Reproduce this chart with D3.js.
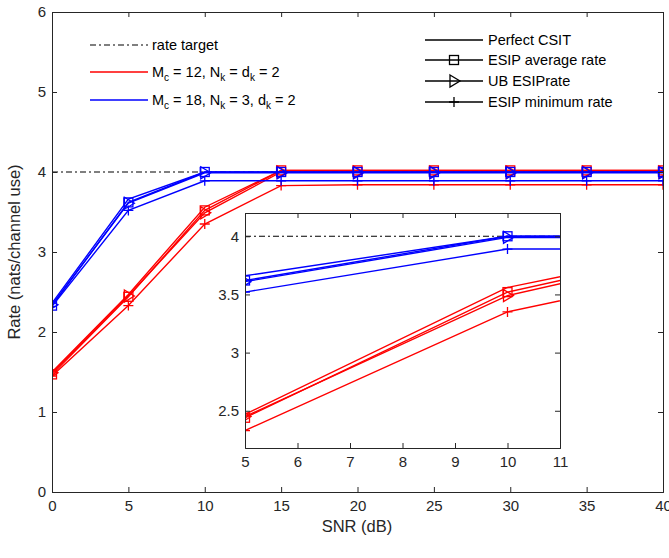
<html>
<head>
<script src="https://d3js.org/d3.v7.min.js"></script>
<style>
body { margin: 0; background: #fff; font-family: "Liberation Sans", Arial, sans-serif; }
text { font-family: "Liberation Sans", Arial, sans-serif; }
</style>
</head>
<body>
<svg id="chart" width="669" height="558"></svg>
<script>
// data
const snr = [0, 5, 10, 15, 20, 25, 30, 35, 40];
const rateTarget = 4;
const redPerfect = [1.50, 2.47, 3.56, 4.02, 4.02, 4.02, 4.02, 4.02, 4.02];
const redAvg     = [1.47, 2.44, 3.52, 4.02, 4.02, 4.02, 4.02, 4.02, 4.02];
const redUB      = [1.49, 2.45, 3.49, 4.00, 4.00, 4.00, 4.00, 4.00, 4.00];
const redMin     = [1.45, 2.33, 3.35, 3.83, 3.84, 3.84, 3.84, 3.84, 3.84];
const bluePerfect = [2.36, 3.66, 4.00, 4.00, 4.00, 4.00, 4.00, 4.00, 4.00];
const blueAvg     = [2.33, 3.62, 4.00, 4.00, 4.00, 4.00, 4.00, 4.00, 4.00];
const blueUB      = [2.34, 3.61, 3.99, 3.99, 3.99, 3.99, 3.99, 3.99, 3.99];
const blueMin     = [2.32, 3.52, 3.89, 3.89, 3.89, 3.89, 3.89, 3.89, 3.89];
const xTicks = [0, 5, 10, 15, 20, 25, 30, 35, 40];
const yTicks = [0, 1, 2, 3, 4, 5, 6];
const insetXTicks = [5, 6, 7, 8, 9, 10, 11];
const insetYTicks = [2.5, 3, 3.5, 4];

const series = [
  {c: "red", v: redPerfect, m: null}, {c: "red", v: redAvg, m: "sq"},
  {c: "red", v: redUB, m: "tri"}, {c: "red", v: redMin, m: "plus"},
  {c: "blue", v: bluePerfect, m: null}, {c: "blue", v: blueAvg, m: "sq"},
  {c: "blue", v: blueUB, m: "tri"}, {c: "blue", v: blueMin, m: "plus"}
];

const svg = d3.select("#chart");

function marker(g, type, x, y, color) {
  if (type === "sq") {
    g.append("rect").attr("x", x - 4.5).attr("y", y - 4.5).attr("width", 9).attr("height", 9)
      .attr("fill", "none").attr("stroke", color).attr("stroke-width", 1.3);
  } else if (type === "tri") {
    g.append("path").attr("d", `M${x - 4},${y - 6}L${x + 6},${y}L${x - 4},${y + 6}Z`)
      .attr("fill", "none").attr("stroke", color).attr("stroke-width", 1.3);
  } else if (type === "plus") {
    g.append("path").attr("d", `M${x - 5},${y}H${x + 5}M${x},${y - 5}V${y + 5}`)
      .attr("stroke", color).attr("stroke-width", 1.3);
  }
}

function panel(x0, x1, y0, y1, xd, yd, xt, yt, fmtY, clipId) {
  const x = d3.scaleLinear().domain(xd).range([x0, x1]);
  const y = d3.scaleLinear().domain(yd).range([y1, y0]);
  const g = svg.append("g");
  g.append("rect").attr("x", x0).attr("y", y0).attr("width", x1 - x0).attr("height", y1 - y0).attr("fill", "#fff");
  g.append("clipPath").attr("id", clipId).append("rect")
    .attr("x", x0).attr("y", y0).attr("width", x1 - x0).attr("height", y1 - y0);
  const pg = g.append("g").attr("clip-path", `url(#${clipId})`);
  pg.append("line").attr("x1", x0).attr("x2", x1).attr("y1", y(rateTarget)).attr("y2", y(rateTarget))
    .attr("stroke", "#000").attr("stroke-width", 1.2).attr("stroke-dasharray", "6,3,2,3");
  const line = d3.line().x((d, i) => x(snr[i])).y(d => y(d));
  series.forEach(s => {
    pg.append("path").attr("d", line(s.v)).attr("fill", "none").attr("stroke", s.c).attr("stroke-width", 1.4);
    if (s.m) s.v.forEach((v, i) => { if (snr[i] >= xd[0] && snr[i] <= xd[1]) marker(pg, s.m, x(snr[i]), y(v), s.c); });
  });
  g.append("g").attr("transform", `translate(0,${y1})`)
    .call(d3.axisBottom(x).tickValues(xt).tickSize(-5).tickPadding(8).tickFormat(d3.format("d")));
  g.append("g").attr("transform", `translate(${x0},0)`)
    .call(d3.axisLeft(y).tickValues(yt).tickSize(-5).tickPadding(6).tickFormat(fmtY));
  g.append("g").attr("transform", `translate(0,${y0})`)
    .call(d3.axisTop(x).tickValues(xt).tickSize(-5).tickFormat(""));
  g.append("g").attr("transform", `translate(${x1},0)`)
    .call(d3.axisRight(y).tickValues(yt).tickSize(-5).tickFormat(""));
  g.selectAll(".domain").attr("stroke", "#262626");
  g.selectAll(".tick line").attr("stroke", "#262626");
  g.selectAll(".tick text").attr("fill", "#262626").style("font-size", "15px");
  return g;
}

panel(52, 663, 12, 492, [0, 40], [0, 6], xTicks, yTicks, d3.format("d"), "c1");
panel(245, 560, 213, 448, [5, 11], [2.18, 4.2], insetXTicks, insetYTicks, d => d, "c2");

svg.append("text").attr("x", 357).attr("y", 532).attr("text-anchor", "middle")
  .style("font-size", "16.5px").attr("fill", "#262626").text("SNR (dB)");
svg.append("text").attr("transform", "translate(20,252) rotate(-90)").attr("text-anchor", "middle")
  .style("font-size", "16.5px").attr("fill", "#262626").text("Rate (nats/channel use)");

// left legend
const lg = svg.append("g").style("font-size", "14.5px");
lg.append("line").attr("x1", 90).attr("x2", 148).attr("y1", 45).attr("y2", 45)
  .attr("stroke", "#000").attr("stroke-width", 1.2).attr("stroke-dasharray", "6,3,2,3");
lg.append("text").attr("x", 152).attr("y", 50).text("rate target");
const leg2 = [{c: "red", y: 72, mc: 12, mid: " = d"}, {c: "blue", y: 100, mc: 18, mid: " = 3, d"}];
leg2.forEach(l => {
  lg.append("line").attr("x1", 90).attr("x2", 148).attr("y1", l.y).attr("y2", l.y).attr("stroke", l.c).attr("stroke-width", 1.4);
  const t = lg.append("text").attr("x", 152).attr("y", l.y + 5);
  t.append("tspan").text("M");
  t.append("tspan").attr("dy", 4).style("font-size", "10px").text("c");
  t.append("tspan").attr("dy", -4).text(` = ${l.mc}, N`);
  t.append("tspan").attr("dy", 4).style("font-size", "10px").text("k");
  t.append("tspan").attr("dy", -4).text(l.mid);
  t.append("tspan").attr("dy", 4).style("font-size", "10px").text("k");
  t.append("tspan").attr("dy", -4).text(" = 2");
});

// right legend
const rl = [{t: "Perfect CSIT", m: null, y: 40}, {t: "ESIP average rate", m: "sq", y: 60},
            {t: "UB ESIPrate", m: "tri", y: 81}, {t: "ESIP minimum rate", m: "plus", y: 102}];
const rg = svg.append("g").style("font-size", "14.5px");
rl.forEach(l => {
  rg.append("line").attr("x1", 425).attr("x2", 483).attr("y1", l.y).attr("y2", l.y).attr("stroke", "#000").attr("stroke-width", 1.4);
  if (l.m) marker(rg, l.m, 454, l.y, "#000");
  rg.append("text").attr("x", 488).attr("y", l.y + 5).text(l.t);
});
</script>
</body>
</html>
